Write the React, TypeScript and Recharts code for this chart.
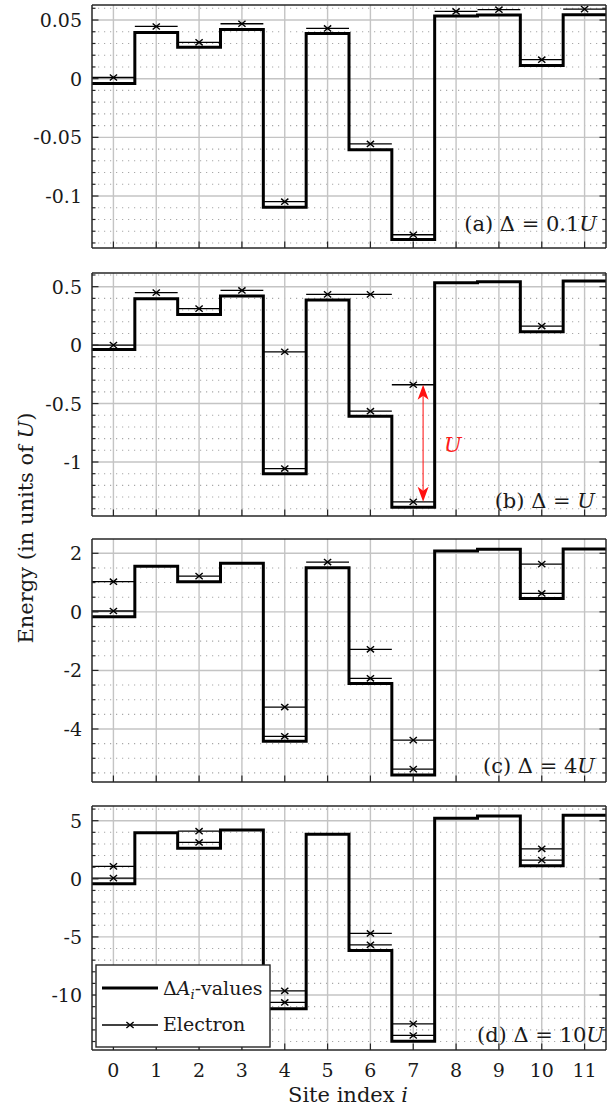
import React from 'react';
import { ComposedChart, Line, Scatter, XAxis, YAxis, CartesianGrid, ReferenceLine } from 'recharts';

// ---------- data ----------
const sites = [0, 1, 2, 3, 4, 5, 6, 7, 8, 9, 10, 11];

// (a) Delta = 0.1U
const deltaA_a = [-0.004, 0.0394, 0.0267, 0.042, -0.1096, 0.0386, -0.0605, -0.137, 0.0534, 0.0542, 0.0113, 0.0545];
const elecSites_a = [0, 1, 2, 3, 4, 5, 6, 7, 8, 9, 10, 11];
const elecE_a = [0.001, 0.0445, 0.031, 0.0468, -0.1048, 0.0428, -0.0556, -0.133, 0.0573, 0.0588, 0.0162, 0.0593];
const majorTicks_a = [0.05, 0, -0.05, -0.1];
const majorLabels_a = ['0.05', '0', '-0.05', '-0.1'];
const minorTicks_a = [0.06, 0.04, 0.03, 0.02, 0.01, -0.01, -0.02, -0.03, -0.04, -0.06, -0.07, -0.08, -0.09, -0.11, -0.12, -0.13, -0.14];
const domain_a = [-0.1443, 0.0628];

// (b) Delta = U
const deltaA_b = [-0.037, 0.397, 0.263, 0.42, -1.1, 0.385, -0.608, -1.387, 0.534, 0.543, 0.115, 0.548];
const elecSites_b = [0, 1, 2, 3, 4, 4, 5, 6, 6, 7, 7, 10];
const elecE_b = [0.0, 0.449, 0.312, 0.468, -0.057, -1.056, 0.434, 0.434, -0.565, -0.339, -1.341, 0.163];
const majorTicks_b = [0.5, 0, -0.5, -1];
const majorLabels_b = ['0.5', '0', '-0.5', '-1'];
const minorTicks_b = [0.6, 0.4, 0.3, 0.2, 0.1, -0.1, -0.2, -0.3, -0.4, -0.6, -0.7, -0.8, -0.9, -1.1, -1.2, -1.3, -1.4];
const domain_b = [-1.462, 0.617];

// (c) Delta = 4U
const deltaA_c = [-0.17, 1.56, 1.03, 1.66, -4.42, 1.51, -2.45, -5.57, 2.08, 2.14, 0.46, 2.15];
const elecSites_c = [0, 0, 2, 4, 4, 5, 6, 6, 7, 7, 10, 10];
const elecE_c = [1.03, 0.03, 1.22, -3.25, -4.25, 1.7, -1.28, -2.27, -4.38, -5.37, 1.63, 0.63];
const majorTicks_c = [2, 0, -2, -4];
const majorLabels_c = ['2', '0', '-2', '-4'];
const minorTicks_c = [1.5, 1, 0.5, -0.5, -1, -1.5, -2.5, -3, -3.5, -4.5, -5, -5.5];
const domain_c = [-5.81, 2.488];

// (d) Delta = 10U
const deltaA_d = [-0.43, 3.96, 2.62, 4.19, -11.19, 3.84, -6.16, -13.97, 5.21, 5.4, 1.12, 5.46];
const elecSites_d = [0, 0, 2, 2, 4, 4, 6, 6, 7, 7, 10, 10];
const elecE_d = [1.07, 0.06, 4.1, 3.13, -9.64, -10.64, -4.7, -5.68, -12.48, -13.48, 2.58, 1.61];
const majorTicks_d = [5, 0, -5, -10];
const majorLabels_d = ['5', '0', '-5', '-10'];
const minorTicks_d = [6, 4, 3, 2, 1, -1, -2, -3, -4, -6, -7, -8, -9, -11, -12, -13, -14];
const domain_d = [-14.73, 6.265];

// red U arrow in panel (b): between the two electron levels of site 7
const arrowX = 7.23;
const arrowTop = -0.339;
const arrowBottom = -1.341;

// ---------- styling / layout ----------
const FONT = 'DejaVu Serif, serif';
const FS = 19;
const FS_TITLE = 21;
const SPINE = '#262626';
const TXT = '#1a1a1a';
const W = 607;
const LEFT_W = 92;
const TS = { fontFamily: FONT };

const panels = [
  { key: 'a', top: 5, bottom: 248, deltaA: deltaA_a, es: elecSites_a, ee: elecE_a, maj: majorTicks_a, lab: majorLabels_a, min: minorTicks_a, dom: domain_a, tag: '(a) Δ = 0.1', tagU: 'U', tx: 597, ty: 231 },
  { key: 'b', top: 273, bottom: 516, deltaA: deltaA_b, es: elecSites_b, ee: elecE_b, maj: majorTicks_b, lab: majorLabels_b, min: minorTicks_b, dom: domain_b, tag: '(b) Δ = ', tagU: 'U', tx: 595, ty: 508 },
  { key: 'c', top: 539, bottom: 782, deltaA: deltaA_c, es: elecSites_c, ee: elecE_c, maj: majorTicks_c, lab: majorLabels_c, min: minorTicks_c, dom: domain_c, tag: '(c) Δ = 4', tagU: 'U', tx: 595, ty: 773 },
  { key: 'd', top: 806, bottom: 1050, deltaA: deltaA_d, es: elecSites_d, ee: elecE_d, maj: majorTicks_d, lab: majorLabels_d, min: minorTicks_d, dom: domain_d, tag: '(d) Δ = 10', tagU: 'U', tx: 604, ty: 1042 },
];

function makeLeftTick(majors: number[], labels: string[]) {
  return (props: any) => {
    const { x, y, payload } = props;
    const idx = majors.indexOf(payload.value);
    const isMajor = idx >= 0;
    return (
      <g>
        <line x1={x} x2={x + (isMajor ? 6.5 : 3.5)} y1={y} y2={y} stroke={SPINE} strokeWidth={1.2} />
        {isMajor && (
          <text x={x - 10} y={y} dy={7} textAnchor="end" style={TS} fontSize={FS} fill={TXT}>
            {labels[idx]}
          </text>
        )}
      </g>
    );
  };
}

function makeRightTick(majors: number[]) {
  return (props: any) => {
    const { x, y, payload } = props;
    const isMajor = majors.indexOf(payload.value) >= 0;
    return <line x1={x} x2={x - (isMajor ? 6.5 : 3.5)} y1={y} y2={y} stroke={SPINE} strokeWidth={1.2} />;
  };
}

function makeBottomTick(showLabel: boolean) {
  return (props: any) => {
    const { x, y, payload } = props;
    return (
      <g>
        <line x1={x} x2={x} y1={y} y2={y - 6.5} stroke={SPINE} strokeWidth={1.2} />
        {showLabel && (
          <text x={x} y={y + 27} textAnchor="middle" style={TS} fontSize={FS} fill={TXT}>
            {payload.value}
          </text>
        )}
      </g>
    );
  };
}

const TopTick = (props: any) => {
  const { x, y } = props;
  return <line x1={x} x2={x} y1={y} y2={y + 6.5} stroke={SPINE} strokeWidth={1.2} />;
};

const CrossShape = (props: any) => {
  const { cx, cy } = props;
  const h = 3.6;
  return (
    <g stroke="#000" strokeWidth={1.4}>
      <line x1={cx - h} y1={cy - h * 0.85} x2={cx + h} y2={cy + h * 0.85} />
      <line x1={cx - h} y1={cy + h * 0.85} x2={cx + h} y2={cy - h * 0.85} />
    </g>
  );
};

const ArrowShape = (props: any) => {
  const { x1, y1, x2, y2 } = props;
  const top = Math.min(y1, y2);
  const bot = Math.max(y1, y2);
  const x = x1;
  const hl = 15;
  const hw = 5.5;
  const notch = 4;
  return (
    <g>
      <line x1={x} x2={x} y1={top + hl - notch} y2={bot - hl + notch} stroke="#ff2020" strokeWidth={1.1} />
      <path d={`M${x},${top} L${x + hw},${top + hl} L${x},${top + hl - notch} L${x - hw},${top + hl} Z`} fill="#ff1010" />
      <path d={`M${x},${bot} L${x + hw},${bot - hl} L${x},${bot - hl + notch} L${x - hw},${bot - hl} Z`} fill="#ff1010" />
      <text x={x + 21} y={(top + bot) / 2 + 9} style={TS} fontSize={FS_TITLE} fontStyle="italic" fill="#ff1a1a">U</text>
    </g>
  );
};

function Panel({ p, last }: { p: any; last: boolean }) {
  const stepData = p.deltaA.map((v: number, i: number) => ({ x: sites[i] - 0.5, y: v }));
  stepData.push({ x: sites[sites.length - 1] + 0.5, y: p.deltaA[p.deltaA.length - 1] });
  const elecLine: any[] = [];
  const elecPts: any[] = [];
  p.es.forEach((s: number, k: number) => {
    elecLine.push({ x: s - 0.5, y: p.ee[k] });
    elecLine.push({ x: s + 0.5, y: p.ee[k] });
    elecLine.push({ x: s + 0.5, y: null });
    elecPts.push({ x: s, y: p.ee[k] });
  });
  const allTicks = [...p.maj, ...p.min].sort((a, b) => b - a);
  const topH = 5;
  const botH = last ? 60 : 5;
  const plotH = p.bottom - p.top;
  const xDom = [sites[0] - 0.5, sites[sites.length - 1] + 0.5];
  return (
    <div style={{ position: 'absolute', left: 0, top: p.top - topH }}>
      <ComposedChart width={W} height={plotH + topH + botH} margin={{ top: 0, right: 0, bottom: 0, left: 0 }}>
        <XAxis
          type="number"
          dataKey="x"
          domain={xDom}
          allowDataOverflow
          ticks={sites}
          interval={0}
          height={botH}
          tickSize={0}
          tickMargin={0}
          tickLine={false}
          tick={makeBottomTick(last)}
          axisLine={{ stroke: SPINE, strokeWidth: 1.5 }}
        />
        <XAxis
          xAxisId="t"
          orientation="top"
          type="number"
          domain={xDom}
          allowDataOverflow
          ticks={sites}
          interval={0}
          height={topH}
          tickSize={0}
          tickMargin={0}
          tickLine={false}
          tick={TopTick}
          axisLine={{ stroke: SPINE, strokeWidth: 1.5 }}
        />
        <YAxis
          type="number"
          domain={p.dom}
          allowDataOverflow
          ticks={allTicks}
          interval={0}
          width={LEFT_W}
          tickSize={0}
          tickMargin={0}
          tickLine={false}
          tick={makeLeftTick(p.maj, p.lab)}
          axisLine={{ stroke: SPINE, strokeWidth: 1.5 }}
        />
        <YAxis
          yAxisId="r"
          orientation="right"
          type="number"
          domain={p.dom}
          allowDataOverflow
          ticks={allTicks}
          interval={0}
          width={1}
          tickSize={0}
          tickMargin={0}
          tickLine={false}
          tick={makeRightTick(p.maj)}
          axisLine={{ stroke: SPINE, strokeWidth: 1.5 }}
        />
        <CartesianGrid horizontalValues={p.min} vertical={false} stroke="#a8a8a8" strokeWidth={1.1} strokeDasharray="1.2 4.8" />
        <CartesianGrid horizontalValues={p.maj} verticalValues={sites} stroke="#c4c4c4" strokeWidth={1.4} />
        <Line data={stepData} dataKey="y" type="stepAfter" stroke="#000" strokeWidth={3} dot={false} activeDot={false} isAnimationActive={false} />
        <Line data={elecLine} dataKey="y" type="linear" stroke="#000" strokeWidth={1.3} dot={false} activeDot={false} connectNulls={false} isAnimationActive={false} />
        <Scatter data={elecPts} dataKey="y" shape={CrossShape} isAnimationActive={false} />
        {p.key === 'b' && (
          <ReferenceLine
            segment={[{ x: arrowX, y: arrowTop }, { x: arrowX, y: arrowBottom }]}
            shape={ArrowShape}
            ifOverflow="visible"
          />
        )}
      </ComposedChart>
    </div>
  );
}

export default function App() {
  return (
    <div style={{ position: 'absolute', left: 0, top: 0, width: W, height: 1112, background: '#fff', fontFamily: FONT }}>
      {panels.map((p, i) => (
        <Panel key={p.key} p={p} last={i === panels.length - 1} />
      ))}
      <svg width={W} height={1112} style={{ position: 'absolute', left: 0, top: 0, pointerEvents: 'none' }}>
        {panels.map((p) => (
          <text key={p.key} x={p.tx} y={p.ty} textAnchor="end" style={TS} fontSize={FS_TITLE} fill={TXT}>
            {p.tag}
            <tspan fontStyle="italic">{p.tagU}</tspan>
          </text>
        ))}
        <text transform="translate(33,528) rotate(-90)" textAnchor="middle" style={TS} fontSize={FS_TITLE} fill={TXT}>
          Energy (in units of <tspan fontStyle="italic">U</tspan>)
        </text>
        <text x={348} y={1102} textAnchor="middle" style={TS} fontSize={FS_TITLE} fill={TXT}>
          Site index <tspan fontStyle="italic">i</tspan>
        </text>
        <g>
          <rect x={96} y={965} width={174} height={82} fill="#fff" stroke={SPINE} strokeWidth={1.4} />
          <line x1={102} x2={158} y1={988} y2={988} stroke="#000" strokeWidth={3} />
          <text x={163} y={995} style={TS} fontSize={FS} fill={TXT}>
            Δ<tspan fontStyle="italic">A</tspan>
            <tspan fontStyle="italic" fontSize={13} dy={4}>i</tspan>
            <tspan dy={-4}>-values</tspan>
          </text>
          <line x1={102} x2={158} y1={1025} y2={1025} stroke="#000" strokeWidth={1.3} />
          <CrossShape cx={130} cy={1025} />
          <text x={163} y={1031} style={TS} fontSize={FS} fill={TXT}>
            Electron
          </text>
        </g>
      </svg>
    </div>
  );
}
